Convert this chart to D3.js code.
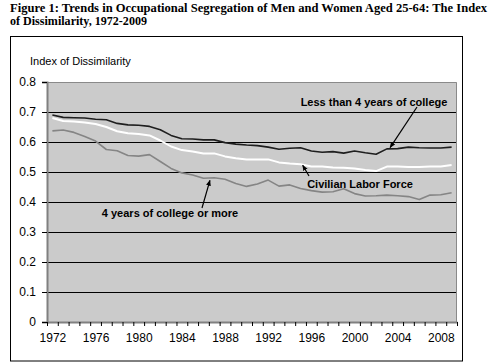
<!DOCTYPE html>
<html>
<head>
<meta charset="utf-8">
<script src="https://cdn.jsdelivr.net/npm/d3@7"></script>
<style>
  body { margin: 0; background: #fff; }
  svg { display: block; }
  .axis text { font-family: "Liberation Sans", Arial, sans-serif; font-size: 12px; fill: #000; }
</style>
</head>
<body>
<div id="chart"></div>
<script>
// years 1972-2009
var years = d3.range(1972, 2010);

var lessThan4 = [0.690, 0.682, 0.681, 0.680, 0.676, 0.674, 0.662, 0.657, 0.656, 0.652,
  0.641, 0.622, 0.611, 0.610, 0.607, 0.607, 0.598, 0.593, 0.590, 0.588,
  0.583, 0.576, 0.579, 0.581, 0.570, 0.566, 0.568, 0.563, 0.570, 0.564,
  0.559, 0.577, 0.578, 0.583, 0.581, 0.580, 0.580, 0.583];

var laborForce = [0.680, 0.670, 0.668, 0.665, 0.660, 0.650, 0.636, 0.629, 0.627, 0.622,
  0.605, 0.585, 0.573, 0.568, 0.562, 0.562, 0.552, 0.546, 0.542, 0.542,
  0.542, 0.532, 0.528, 0.526, 0.518, 0.518, 0.515, 0.514, 0.512, 0.507,
  0.503, 0.518, 0.518, 0.517, 0.517, 0.518, 0.518, 0.523];

var college4 = [0.637, 0.640, 0.632, 0.618, 0.603, 0.575, 0.571, 0.555, 0.553, 0.558,
  0.535, 0.512, 0.497, 0.490, 0.479, 0.481, 0.476, 0.462, 0.452, 0.460,
  0.473, 0.453, 0.457, 0.445, 0.438, 0.433, 0.434, 0.444, 0.428, 0.420,
  0.421, 0.423, 0.421, 0.418, 0.408, 0.423, 0.424, 0.431];

var yTicks = [0, 0.1, 0.2, 0.3, 0.4, 0.5, 0.6, 0.7, 0.8];
var xLabels = [1972, 1976, 1980, 1984, 1988, 1992, 1996, 2000, 2004, 2008];

var W = 500, H = 363;
var margin = {top: 82, right: 43, bottom: 41, left: 47}
  , width = W - margin.left - margin.right
  , height = H - margin.top - margin.bottom;

var svg = d3.select('#chart').append('svg')
  .attr('width', W)
  .attr('height', H);

var defs = svg.append('defs');
defs.append('marker')
  .attr('id', 'arrow')
  .attr('viewBox', '0 0 10 10')
  .attr('refX', 9).attr('refY', 5)
  .attr('markerWidth', 6).attr('markerHeight', 6)
  .attr('markerUnits', 'userSpaceOnUse')
  .attr('orient', 'auto')
  .append('path')
  .attr('d', 'M0,1 L10,5 L0,9 Z')
  .attr('fill', '#000');

// title (two lines, fitted to the reference widths)
var title = svg.append('g')
  .attr('font-family', '"Liberation Serif", "Times New Roman", serif')
  .attr('font-weight', 'bold')
  .attr('font-size', '12.5px')
  .attr('fill', '#000');
title.append('text').attr('x', 10).attr('y', 12)
  .attr('textLength', 477).attr('lengthAdjust', 'spacingAndGlyphs')
  .text('Figure 1: Trends in Occupational Segregation of Men and Women Aged 25-64: The Index');
title.append('text').attr('x', 10).attr('y', 25)
  .attr('textLength', 137).attr('lengthAdjust', 'spacingAndGlyphs')
  .text('of Dissimilarity, 1972-2009');

// outer frame
svg.append('rect')
  .attr('x', 10.5).attr('y', 36.5)
  .attr('width', 452).attr('height', 324.5)
  .attr('fill', 'none')
  .attr('stroke', '#000')
  .attr('stroke-width', 1);

// y axis title
svg.append('text')
  .attr('x', 30).attr('y', 61)
  .attr('dy', '0.35em')
  .attr('font-family', '"Liberation Sans", Arial, sans-serif')
  .attr('font-size', '11px')
  .text('Index of Dissimilarity');

var x = d3.scaleLinear()
  .domain([1971.5, 2009.5])
  .range([0, width]);

var y = d3.scaleLinear()
  .domain([0, 0.8])
  .range([height, 0]);

var main = svg.append('g')
  .attr('transform', 'translate(' + margin.left + ',' + margin.top + ')');

// plot background
main.append('rect')
  .attr('width', width).attr('height', height)
  .attr('fill', '#cbcbcb');

// gridlines
main.append('g')
  .selectAll('line')
  .data(yTicks.filter(function(d) { return d > 0 && d < 0.8; }))
  .enter().append('line')
  .attr('x1', 0).attr('x2', width)
  .attr('y1', function(d) { return Math.round(y(d)) + 0.5; })
  .attr('y2', function(d) { return Math.round(y(d)) + 0.5; })
  .attr('stroke', '#000')
  .attr('stroke-width', 1);

// plot border (top / right)
main.append('path')
  .attr('d', 'M0,0.5 H' + (width - 0.5) + ' V' + height)
  .attr('fill', 'none')
  .attr('stroke', '#8a8a8a')
  .attr('stroke-width', 1);

// y axis
var yAxis = main.append('g')
  .attr('class', 'axis')
  .call(d3.axisLeft(y).tickValues(yTicks)
    .tickFormat(function(d) { return d === 0 ? '0' : d3.format('.1f')(d); })
    .tickSize(5).tickPadding(6));
yAxis.select('.domain').attr('stroke', '#808080').attr('stroke-width', 2);
yAxis.selectAll('.tick line').attr('stroke', '#000');

// x axis: ticks at category boundaries
var xAxis = main.append('g')
  .attr('class', 'axis')
  .attr('transform', 'translate(0,' + height + ')')
  .call(d3.axisBottom(x)
    .tickValues(d3.range(1971.5, 2010, 1))
    .tickFormat('')
    .tickSize(4)
    .tickSizeOuter(0));
xAxis.select('.domain').attr('stroke', '#808080').attr('stroke-width', 2);
xAxis.selectAll('.tick line').attr('stroke', '#000');

var xLab = main.append('g')
  .attr('class', 'axis')
  .attr('transform', 'translate(0,' + height + ')')
  .call(d3.axisBottom(x)
    .tickValues(xLabels)
    .tickFormat(d3.format('d'))
    .tickSize(0)
    .tickPadding(11));
xLab.select('.domain').remove();

// lines
var series = [
  {values: college4, color: '#858585', w: 1.6},
  {values: laborForce, color: '#ffffff', w: 2},
  {values: lessThan4, color: '#1e1e1e', w: 1.6}
];

var line = d3.line()
  .x(function(d, i) { return x(years[i]); })
  .y(function(d) { return y(d); });

main.selectAll('.series')
  .data(series)
  .enter().append('path')
  .attr('class', 'series')
  .attr('fill', 'none')
  .attr('stroke', function(d) { return d.color; })
  .attr('stroke-width', function(d) { return d.w; })
  .attr('stroke-linejoin', 'round')
  .attr('d', function(d) { return line(d.values); });

// annotations
function label(txt, cx, cy) {
  svg.append('text')
    .attr('x', cx).attr('y', cy)
    .attr('text-anchor', 'middle')
    .attr('dy', '0.35em')
    .attr('font-family', '"Liberation Sans", Arial, sans-serif')
    .attr('font-weight', 'bold')
    .attr('font-size', '11px')
    .text(txt);
}
function arrow(x1, y1, x2, y2) {
  svg.append('line')
    .attr('x1', x1).attr('y1', y1)
    .attr('x2', x2).attr('y2', y2)
    .attr('stroke', '#000')
    .attr('stroke-width', 1.2)
    .attr('marker-end', 'url(#arrow)');
}

label('Less than 4 years of college', 374, 102);
arrow(417, 107, x(2003.3) + margin.left, y(0.578) + margin.top - 1);

label('Civilian Labor Force', 360, 184);
arrow(309, 176, x(1995.2) + margin.left, y(0.526) + margin.top + 1);

label('4 years of college or more', 170, 213);
arrow(202, 208, x(1986.6) + margin.left, y(0.479) + margin.top + 2);
</script>
</body>
</html>
